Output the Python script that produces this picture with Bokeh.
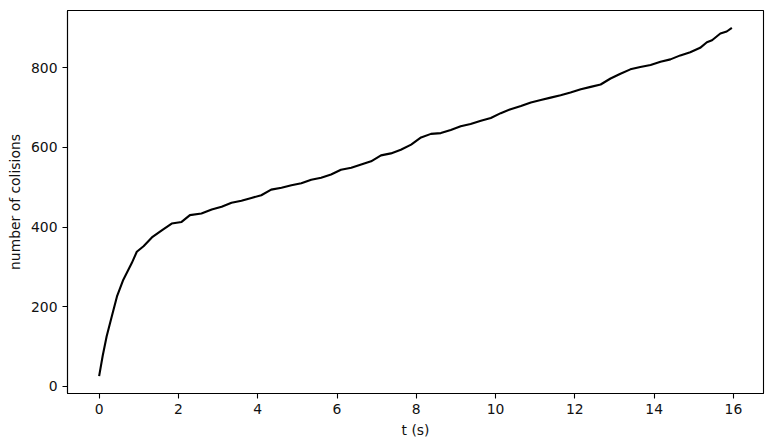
from bokeh.plotting import figure
from bokeh.models import Range1d, FixedTicker
from bokeh.embed import file_html
from bokeh.resources import INLINE

t = [0, 0.09, 0.19, 0.32, 0.45, 0.61, 0.82, 0.95, 1.12, 1.33, 1.58, 1.83, 2.08, 2.29, 2.58,
     2.84, 3.09, 3.34, 3.59, 3.84, 4.09, 4.34, 4.60, 4.85, 5.10, 5.35, 5.60, 5.85, 6.10,
     6.36, 6.61, 6.86, 7.11, 7.36, 7.61, 7.87, 8.12, 8.37, 8.62, 8.87, 9.12, 9.37, 9.63,
     9.88, 10.13, 10.38, 10.64, 10.89, 11.14, 11.39, 11.64, 11.89, 12.15, 12.40, 12.65,
     12.90, 13.15, 13.40, 13.65, 13.91, 14.16, 14.41, 14.66, 14.91, 15.16, 15.33, 15.46,
     15.67, 15.83, 15.96]
collisions = [26, 77, 126, 176, 226, 268, 309, 338, 352, 374, 392, 409, 413, 430, 434,
              444, 451, 461, 466, 473, 480, 494, 499, 505, 510, 519, 524, 532, 544,
              549, 557, 565, 580, 585, 594, 607, 625, 634, 636, 644, 653, 659, 667,
              674, 686, 696, 704, 713, 719, 725, 731, 738, 746, 752, 758,
              773, 785, 796, 802, 807, 815, 821, 831, 839, 850, 864, 869,
              886, 891, 900]
x_ticks = [0, 2, 4, 6, 8, 10, 12, 14, 16]
y_ticks = [0, 200, 400, 600, 800]

xmin, xmax = min(t), max(t)
ymin, ymax = min(collisions), max(collisions)
mx = 0.05 * (xmax - xmin)
my = 0.05 * (ymax - ymin)

p = figure(width=765, height=440, output_backend="svg", toolbar_location=None,
           x_range=Range1d(xmin - mx, xmax + mx), y_range=Range1d(ymin - my, ymax + my),
           min_border_left=67, min_border_right=2, min_border_top=10, min_border_bottom=45)

p.line(t, collisions, line_color="black", line_width=2.1)

p.xgrid.visible = False
p.ygrid.visible = False
p.outline_line_color = "black"
p.outline_line_width = 1.1
p.background_fill_color = "white"
p.border_fill_color = "white"

p.xaxis.ticker = FixedTicker(ticks=x_ticks)
p.yaxis.ticker = FixedTicker(ticks=y_ticks)
p.xaxis.axis_label = "t (s)"
p.yaxis.axis_label = "number of colisions"

for ax in (p.xaxis[0], p.yaxis[0]):
    ax.minor_tick_line_color = None
    ax.major_tick_out = 5
    ax.major_tick_in = 0
    ax.major_tick_line_width = 1.1
    ax.axis_line_width = 1.1
    ax.major_label_text_font = "DejaVu Sans"
    ax.major_label_text_font_size = "13.9px"
    ax.major_label_text_color = "#111111"
    ax.axis_label_text_font = "DejaVu Sans"
    ax.axis_label_text_font_size = "13.9px"
    ax.axis_label_text_font_style = "normal"
    ax.axis_label_text_color = "#111111"
    ax.major_label_standoff = 5
    ax.axis_label_standoff = 5

open("out.html", "w").write(file_html(p, INLINE))
